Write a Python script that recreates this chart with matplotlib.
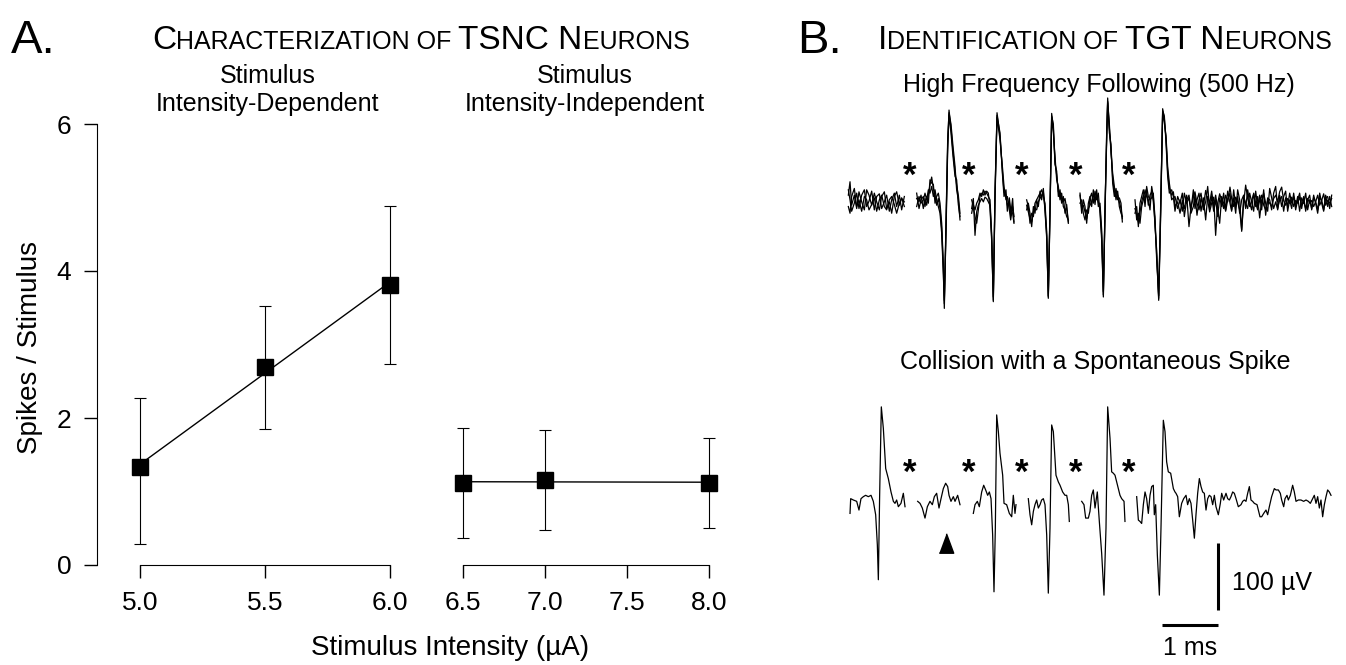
import numpy as np
import matplotlib.pyplot as plt
from matplotlib.offsetbox import TextArea, HPacker, AnchoredOffsetbox

plt.rcParams['font.family'] = ['Liberation Sans', 'DejaVu Sans']

# ---- panel A: spikes per stimulus ----
dep_x = [5.0, 5.5, 6.0]
dep_mean = [1.33, 2.69, 3.81]
dep_low = [0.29, 1.85, 2.73]
dep_high = [2.27, 3.52, 4.89]

ind_x = [6.5, 7.0, 8.0]
ind_mean = [1.12, 1.15, 1.12]
ind_low = [0.37, 0.47, 0.51]
ind_high = [1.86, 1.83, 1.73]

dep_ticks = [5.0, 5.5, 6.0]
ind_ticks = [6.5, 7.0, 7.5, 8.0]
y_ticks = [0, 2, 4, 6]

# ---- panel B: recordings (time in ms, voltage in uV) ----
# high frequency following, three overlaid sweeps, blanked at each stimulus
hf_time = [
    [0.006, 0.036, 0.065, 0.113, 0.155, 0.196, 0.244, 0.292, 0.333, 0.375, 0.423, 0.470,
     0.512, 0.560, 0.601, 0.649, 0.690, 0.738, 0.780, 0.827, 0.869, 0.917, 0.958, 1.006],
    [1.226, 1.268, 1.304, 1.345, 1.375, 1.405, 1.435, 1.464, 1.494, 1.524, 1.554, 1.583, 1.613,
     1.643, 1.673, 1.702, 1.720, 1.750, 1.780, 1.804, 1.839, 1.875, 1.911, 1.940, 1.970, 2.000],
    [2.208, 2.238, 2.268, 2.298, 2.327, 2.357, 2.387, 2.417, 2.446, 2.476, 2.506, 2.536, 2.565,
     2.595, 2.625, 2.661, 2.714, 2.762, 2.786, 2.821, 2.845, 2.881, 2.905, 2.940, 2.964],
    [3.190, 3.220, 3.250, 3.280, 3.310, 3.339, 3.369, 3.399, 3.429, 3.458, 3.488, 3.518, 3.548,
     3.577, 3.607, 3.637, 3.667, 3.696, 3.726, 3.756, 3.786, 3.815, 3.845, 3.875, 3.905, 3.935],
    [4.143, 4.173, 4.202, 4.232, 4.262, 4.292, 4.321, 4.351, 4.381, 4.411, 4.440, 4.470, 4.500,
     4.530, 4.560, 4.589, 4.619, 4.637, 4.667, 4.696, 4.726, 4.756, 4.786, 4.815, 4.845, 4.875, 4.899],
    [5.125, 5.155, 5.185, 5.214, 5.244, 5.274, 5.304, 5.333, 5.363, 5.393, 5.423, 5.452, 5.482,
     5.512, 5.548, 5.583, 5.619, 5.649, 5.679, 5.708, 5.738, 5.780, 5.810,
     5.839, 5.887, 5.929, 5.970, 6.006, 6.048, 6.089, 6.125, 6.167, 6.196,
     6.232, 6.268, 6.304, 6.345, 6.387, 6.423, 6.458, 6.494, 6.530, 6.565,
     6.601, 6.637, 6.673, 6.708, 6.744, 6.780, 6.821, 6.851, 6.887, 6.923,
     6.958, 6.994, 7.030, 7.065, 7.101, 7.137, 7.173, 7.208, 7.244, 7.280,
     7.315, 7.351, 7.387, 7.423, 7.458, 7.494, 7.530, 7.565, 7.601, 7.637,
     7.673, 7.708, 7.744, 7.780, 7.815, 7.851, 7.887, 7.923, 7.958, 7.994,
     8.030, 8.065, 8.101, 8.137, 8.173, 8.208, 8.244, 8.280, 8.315, 8.351,
     8.387, 8.423, 8.458, 8.494, 8.530, 8.565, 8.601, 8.637],
]
hf_sweep_a = [
    [12, 32, -3, 12, -8, 17, 2, -10, 20, 12, -3, 15, 2, -10, 10, 17, -8, 2, -15, 10, 17, -3, 7, 2],
    [7, 2, 12, -8, 7, -3, 12, 27, 39, 22, 12, -3, 7, -8, -38, -97, -157, -38, 87, 139, 112, 77, 47, 27, 12, -15],
    [-8, 7, -48, -13, -3, 2, 7, 2, 9, 7, 2, -3, -50, -147, 12, 135, 101, 42, 17, 12, -3, 2, -18, 7, -28],
    [-3, -13, -23, -28, -13, -8, -10, 2, 7, 12, 17, -8, -48, -142, -13, 134, 112, 62, 42, 17, 12, 7, 2, 7, -8, -28],
    [12, -8, -3, -13, -23, -8, -3, 2, 12, 7, 12, 2, -8, -48, -137, -13, 101, 157, 112, 82, 37, 17, 15, 12, 2, -8, -23],
    [-8, -18, -28, -13, 2, 12, 7, 17, -3, 12, 17, 2, -28, -78, -142, -13, 141, 126, 96, 47, 22, 12, 17,
     -5, 2, -15, 4, -8, 12, -35, -5, 9, 17, 0, -10, 7, -5, 19, 4, -13, 0, 9, -48,
     0, 14, 4, -8, 12, 2, 24, 7, -5, 9, 2, -10, -40, 0, 27, 7, -5, 4, 14, 0,
     -10, 4, 12, -3, -10, 4, 0, -5, 7, 12, 2, 17, 24, 4, -3, 7, 0, 9, -5, 4,
     0, 9, -3, 2, -8, 7, 0, 4, -5, 2, 12, -3, 4, 14, -3, 4, 0, 7],
]
hf_sweep_b = [
    [-5, -15, 10, 22, -5, 5, -12, 10, 5, -10, -2, 8, -12, 5, 12, -5, -10, 5, 10, -2, -15, 0, 8, -5],
    [-5, 10, 0, 5, 15, 5, 20, 15, 25, 10, 20, 5, -5, -15, -45, -105, -150, -30, 95, 135, 118, 85, 55, 20, 5, -25],
    [5, -5, -20, -30, -10, 10, 15, 12, 18, 15, 10, 5, -45, -140, 5, 128, 95, 50, 25, 5, 10, -10, -25, -5, -20],
    [5, -5, -30, -15, -20, 0, 5, 10, 15, 20, 10, 0, -42, -138, -5, 128, 105, 70, 35, 25, 5, 15, -5, -10, -20, -25],
    [0, 5, -15, -25, -10, -15, 8, 15, 0, 18, 5, 15, -15, -55, -140, -5, 95, 150, 118, 75, 45, 25, 5, 18, -5, -15, -20],
    [5, -25, -15, -30, -5, 5, 20, 10, 5, -10, 25, 10, -20, -85, -138, -5, 135, 120, 100, 55, 30, 5, 8,
     10, -8, 5, -12, 15, 0, 8, -15, -5, 12, -18, 5, 15, -10, 2, 25, -8, 10, -12, 5,
     -20, 8, -5, 15, -10, 18, 0, -12, 20, -5, 10, -15, 5, 12, -8, 20, 0, -10, 15, -5,
     10, -22, 5, 15, 0, -12, 22, 8, -8, 2, -10, 12, -5, 10, 18, -12, 5, -8, 15, -5,
     10, -12, 8, 0, 15, -10, 5, -8, 12, 0, -15, 8, 5, -10, 12, -5, 10, -5],
]
hf_sweep_c = [
    [20, 5, -12, 0, 15, -8, 12, 20, -5, 3, 18, -10, 10, 14, -8, 2, 12, -12, 5, 15, -5, 12, -10, 10],
    [15, -8, 5, 10, -5, 10, 0, 35, 30, 28, 0, 10, 15, 0, -30, -90, -145, -45, 80, 132, 105, 70, 40, 35, -2, -20],
    [-15, -2, -10, 0, 5, 15, 10, 20, 12, 18, 15, -8, -55, -145, 18, 131, 105, 38, 10, 20, -12, 8, -10, -15, -30],
    [-10, 0, -15, -35, -5, -15, 5, -5, 18, 5, 22, -12, -52, -140, -18, 130, 118, 58, 48, 10, 20, 0, 10, -15, -2, -30],
    [15, -15, 5, -5, -30, 0, 10, -5, 20, -2, 20, -5, 0, -40, -132, -20, 105, 152, 105, 88, 30, 10, 22, 5, 8, 0, -28],
    [-15, -5, -35, 0, 10, 20, -5, 25, 10, 5, 8, 15, -35, -70, -145, -20, 138, 130, 90, 40, 15, 20, 10,
     -12, 10, 0, 15, -20, 5, 12, -10, 20, -8, 5, 15, -12, 8, -25, 10, 0, 18, -5, 12,
     -8, -30, 10, 0, -12, 5, 15, -10, 8, -15, 20, 5, -42, 10, 0, -8, 15, 2, -12, 18,
     -5, 12, -10, 20, -18, 8, 5, -10, 15, 25, -8, 5, 10, -12, 8, -5, 15, 0, 10, -10,
     5, 15, -8, 10, -12, 5, 12, -10, 8, 2, -10, 15, 0, -12, 8, 10, -8, 12],
]

# collision with a spontaneous spike, single sweep
col_time = [
    [0.036, 0.048, 0.095, 0.155, 0.196, 0.232, 0.274, 0.315, 0.363, 0.411, 0.452, 0.494, 0.524,
     0.542, 0.565, 0.595, 0.631, 0.673, 0.720, 0.768, 0.810, 0.839, 0.869, 0.899, 0.946, 0.988, 1.018],
    [1.244, 1.286, 1.327, 1.375, 1.417, 1.464, 1.506, 1.542, 1.583, 1.625, 1.661, 1.702, 1.744,
     1.780, 1.804, 1.839, 1.881, 1.911, 1.958, 2.000],
    [2.238, 2.268, 2.310, 2.345, 2.387, 2.423, 2.458, 2.494, 2.524, 2.554, 2.583, 2.607, 2.631,
     2.655, 2.685, 2.714, 2.762, 2.786, 2.833, 2.881, 2.923, 2.952, 2.982, 3.000],
    [3.220, 3.250, 3.280, 3.310, 3.339, 3.369, 3.399, 3.429, 3.458, 3.488, 3.518, 3.548, 3.577,
     3.607, 3.637, 3.667, 3.714, 3.756, 3.786, 3.833, 3.875, 3.905, 3.935, 3.952],
    [4.173, 4.214, 4.244, 4.292, 4.321, 4.351, 4.381, 4.411, 4.452, 4.488, 4.530, 4.571, 4.607,
     4.637, 4.679, 4.708, 4.738, 4.768, 4.798, 4.827, 4.857, 4.887, 4.929, 4.946],
    [5.155, 5.185, 5.214, 5.244, 5.274, 5.304, 5.333, 5.363, 5.393, 5.423, 5.452, 5.470, 5.494,
     5.524, 5.560, 5.589, 5.631, 5.661, 5.690, 5.720, 5.762, 5.810, 5.839,
     5.857, 5.887, 5.917, 5.958, 5.994, 6.036, 6.065, 6.095, 6.125, 6.155,
     6.185, 6.214, 6.244, 6.274, 6.304, 6.333, 6.363, 6.393, 6.423, 6.452,
     6.482, 6.512, 6.542, 6.571, 6.613, 6.649, 6.673, 6.708, 6.750, 6.780,
     6.810, 6.839, 6.869, 6.899, 6.929, 6.970, 7.018, 7.048, 7.077, 7.107,
     7.137, 7.167, 7.196, 7.226, 7.256, 7.304, 7.357, 7.387, 7.423, 7.464,
     7.494, 7.524, 7.565, 7.613, 7.643, 7.685, 7.720, 7.744, 7.780, 7.804,
     7.839, 7.863, 7.899, 7.940, 7.970, 8.000, 8.042, 8.089, 8.137, 8.179,
     8.220, 8.256, 8.298, 8.327, 8.357, 8.387, 8.417, 8.446, 8.476, 8.506,
     8.536, 8.565, 8.595, 8.625],
]
col_volt = [
    [-20, 2, 0, -2, -15, 2, 5, 7, 5, 7, -2, -22, -67, -119, 7, 139, 107, 47, 32, 12, -2, -5, 0, -10, -5, 10, -10],
    [-2, -5, -12, -27, -10, -2, -7, 5, 10, -12, 2, 17, 25, 20, 7, -2, 5, -2, 7, -7],
    [-20, -7, -2, -10, 12, 22, 15, 7, 12, 2, -52, -137, -42, 127, 102, 70, 37, -5, -7, -20, -25, 7, -20, -7],
    [2, -22, -37, -17, -7, 0, -12, -7, 0, 2, -7, -52, -139, -42, 112, 102, 37, 27, 22, 12, 7, 7, -7, -32],
    [-2, -7, -27, -27, -17, 7, 15, -12, 12, -32, -80, -142, -42, 139, 92, 42, 40, 37, 27, 17, 7, 2, -2, -32],
    [5, -30, -32, -35, -7, 12, 2, -20, 7, 20, 22, -22, -7, -82, -142, -42, 119, 102, 57, 42, 40, 17, 12,
     10, 5, -25, -5, 2, 7, -7, 2, -5, -30, -57, -22, 10, 32, 20, 12, 10, -15, 2, 7,
     5, -7, 7, -10, -22, -5, 10, 0, 10, 2, 0, 5, 12, 10, 2, -10, -7, -2, 0, -2,
     10, 20, 0, -2, -5, -7, -25, -25, -20, -15, -22, -10, 5, 17, 15, 15, 10, 0, -10, 2,
     7, 0, 7, 22, 12, -2, 0, 0, -2, 0, -2, -5, 2, 7, -5, 5, -12, 0, -25, -7,
     5, 15, 12, 7],
]

stim_times = [1.11, 2.15, 3.10, 4.07, 5.02]
missing_spike_time = 1.75
hf_offset = 443   # vertical offset of the upper trace (uV)


def join(segs):
    out = []
    for s in segs:
        out += list(s) + [np.nan]
    return np.array(out[:-1], dtype=float)


W, H = 1346, 665
fig = plt.figure(figsize=(W / 100, H / 100), dpi=100)


def px_axes(left, right, top, bottom):
    return fig.add_axes([left / W, 1 - bottom / H, (right - left) / W, (bottom - top) / H])


def small_caps(x, y, parts, big, small):
    boxes = [TextArea(s, textprops=dict(fontsize=big if b else small, color='black'))
             for s, b in parts]
    pack = HPacker(children=boxes, align='baseline', pad=0, sep=0)
    box = AnchoredOffsetbox(loc='lower left', child=pack, pad=0, borderpad=0, frameon=False,
                            bbox_to_anchor=(x / W, 1 - y / H), bbox_transform=fig.transFigure)
    fig.add_artist(box)


def panel(ax, x, mean, low, high, ticks):
    x = np.array(x); mean = np.array(mean)
    ax.errorbar(x, mean, yerr=[mean - np.array(low), np.array(high) - mean], fmt='none',
                ecolor='black', elinewidth=0.8, capsize=4.5, capthick=0.8)
    coef = np.polyfit(x, mean, 1)
    ends = np.array([x[0], x[-1]])
    ax.plot(ends, np.polyval(coef, ends), color='black', lw=1.0)
    ax.plot(x, mean, 's', ms=11.5, color='black', zorder=3)
    ax.set_xticks(ticks)
    ax.set_xticklabels(['%.1f' % t for t in ticks])
    ax.spines['top'].set_visible(False)
    ax.spines['right'].set_visible(False)
    ax.spines['bottom'].set_bounds(ticks[0], ticks[-1])
    ax.tick_params(direction='out', length=9.5, width=1, labelsize=19, pad=9)
    ax.set_ylim(0, 6.15)


ax1 = px_axes(97, 400, 565 - 6.15 * 73.5, 565)
panel(ax1, dep_x, dep_mean, dep_low, dep_high, dep_ticks)
ax1.set_xlim(4.828, 6.04)
ax1.set_yticks(y_ticks)
ax1.spines['left'].set_bounds(0, 6)

ax2 = px_axes(440, 720, 565 - 6.15 * 73.5, 565)
panel(ax2, ind_x, ind_mean, ind_low, ind_high, ind_ticks)
ax2.set_xlim(6.36, 8.067)
ax2.spines['left'].set_visible(False)
ax2.set_yticks([])

fig.text(30 / W, 1 - 347 / H, 'Spikes / Stimulus', rotation=90, ha='center', va='center', fontsize=20)
fig.text(450 / W, 1 - 648 / H, 'Stimulus Intensity (µA)', ha='center', va='center', fontsize=20)
fig.text(268 / W, 1 - 90 / H, 'Stimulus\nIntensity-Dependent', ha='center', va='center',
         fontsize=18, linespacing=1.25)
fig.text(585 / W, 1 - 90 / H, 'Stimulus\nIntensity-Independent', ha='center', va='center',
         fontsize=18, linespacing=1.25)

fig.text(11 / W, 1 - 53 / H, 'A.', fontsize=34, va='baseline')
small_caps(152, 56, [('C', 1), ('HARACTERIZATION OF ', 0), ('TSNC N', 1), ('EURONS', 0)], 24, 18)
fig.text(797 / W, 1 - 53 / H, 'B.', fontsize=34, va='baseline')
small_caps(878, 56, [('I', 1), ('DENTIFICATION OF ', 0), ('TGT N', 1), ('EURONS', 0)], 24, 18)

# ---- panel B traces ----
axb = px_axes(845, 1340, 90, 660)
axb.set_xlim((845 - 848) / 56, (1340 - 848) / 56)
axb.set_ylim((500 - 660) / 0.67, (500 - 90) / 0.67)
axb.axis('off')

hf_t = join(hf_time)
for sweep in (hf_sweep_c, hf_sweep_b, hf_sweep_a):
    axb.plot(hf_t, join(sweep) + hf_offset, color='black', lw=0.9)
axb.plot(join(col_time), join(col_volt), color='black', lw=0.9)

for t in stim_times:
    for base in (hf_offset, 0):
        axb.annotate('*', xy=(t, base + 55), xytext=(0, -14), textcoords='offset points',
                     ha='center', va='baseline', fontsize=25, fontweight='bold')

axb.plot([missing_spike_time], [-64], marker=[(-0.37, -0.5), (0.37, -0.5), (0, 0.5)],
         ms=14, color='black', ls='none')

# scale bars: 100 uV and 1 ms
axb.plot([6.61, 6.61], [-64, -164], color='black', lw=2.2, solid_capstyle='butt')
axb.plot([5.61, 6.61], [-186, -186], color='black', lw=2.2, solid_capstyle='butt')
axb.text(6.85, -124, '100 µV', ha='left', va='center', fontsize=18)
axb.text(6.11, -221, '1 ms', ha='center', va='center', fontsize=18)

fig.text(1099 / W, 1 - 85 / H, 'High Frequency Following (500 Hz)', ha='center', va='center', fontsize=18)
fig.text(1095 / W, 1 - 362 / H, 'Collision with a Spontaneous Spike', ha='center', va='center', fontsize=18)

fig.savefig('out.png', dpi=100)
